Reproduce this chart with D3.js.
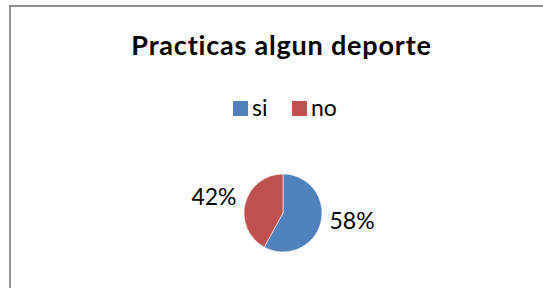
<!DOCTYPE html>
<html>
<head>
<meta charset="utf-8">
<script src="https://cdn.jsdelivr.net/npm/d3@7"></script>
<style>
  body { margin: 0; background: #fff; }
  svg { display: block; font-family: Lato, Carlito, Calibri, sans-serif; }
</style>
</head>
<body>
<div id="myPlot"></div>
<script>
// chart data
const categories = ['si', 'no'];
const values = [58, 42];
const colors = ['#4F81BD', '#C0504D'];
const title = 'Practicas algun deporte';

const width = 543;
const height = 288;

const svg = d3.select('#myPlot')
  .append('svg')
    .attr('width', width)
    .attr('height', height);

// chart frame (cut off on right and bottom)
svg.append('rect')
  .attr('x', 10)
  .attr('y', 6)
  .attr('width', 600)
  .attr('height', 400)
  .attr('fill', 'none')
  .attr('stroke', '#8e8e8e')
  .attr('stroke-width', 2);

svg.append('text')
  .attr('x', 281.5)
  .attr('y', 55)
  .attr('text-anchor', 'middle')
  .style('font-weight', 'bold')
  .style('font-size', '27px')
  .style('letter-spacing', '0.8px')
  .text(title);

// legend
const legendX = [233, 292];
const legend = svg.selectAll('g.legend')
  .data(categories)
  .enter()
  .append('g')
    .attr('class', 'legend')
    .attr('transform', (d, i) => 'translate(' + legendX[i] + ',101)');
legend.append('rect')
  .attr('width', 15)
  .attr('height', 15)
  .attr('fill', (d, i) => colors[i]);
legend.append('text')
  .attr('x', 19)
  .attr('y', 15)
  .style('font-size', '23px')
  .text(d => d);

// pie
const cx = 283, cy = 213, radius = 39;
const color = d3.scaleOrdinal().domain(categories).range(colors);
const pie = d3.pie().sort(null).value(d => d.value);
const data_ready = pie(categories.map((c, i) => ({ name: c, value: values[i] })));

const arc = d3.arc().innerRadius(0).outerRadius(radius);
const labelArc = d3.arc().innerRadius(radius + 9).outerRadius(radius + 9);

const g = svg.append('g')
  .attr('transform', 'translate(' + cx + ',' + cy + ')');

g.selectAll('path')
  .data(data_ready)
  .enter()
  .append('path')
    .attr('d', arc)
    .attr('fill', d => color(d.data.name))
    .attr('stroke', '#fff')
    .attr('stroke-width', 0.6);

g.selectAll('text')
  .data(data_ready)
  .enter()
  .append('text')
    .attr('x', d => labelArc.centroid(d)[0])
    .attr('y', d => labelArc.centroid(d)[1] + 4)
    .attr('text-anchor', d => (d.startAngle + d.endAngle) / 2 < Math.PI ? 'start' : 'end')
    .style('font-size', '23px')
    .text(d => d.data.value + '%');
</script>
</body>
</html>
